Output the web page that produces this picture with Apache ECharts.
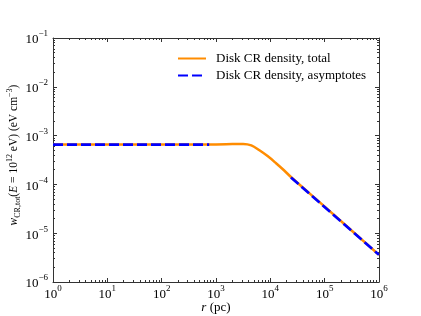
<!DOCTYPE html>
<html><head><meta charset="utf-8">
<script src="https://cdn.jsdelivr.net/npm/echarts@6/dist/echarts.min.js"></script>
<style>html,body{margin:0;padding:0;background:#fff}#c{width:421px;height:316px}</style>
</head><body><div id="c"></div>
<script>
// ---- data ----
const totalR = [1, 10, 100, 1000, 2000, 3160, 4470, 6300, 8900, 12600, 17800, 25100, 100000, 1000000];
const totalW = [6.55e-4, 6.55e-4, 6.55e-4, 6.6e-4, 6.7e-4, 6.75e-4, 6.3e-4, 5.0e-4, 3.8e-4, 2.75e-4, 1.95e-4, 1.35e-4, 3.5e-5, 3.6e-6];
const innerAsymR = [1, 750];
const innerAsymW = [6.55e-4, 6.55e-4];
const outerAsymR = [24000, 1000000];
const outerAsymW = [1.39e-4, 3.6e-6];
const xTickExps = [0, 1, 2, 3, 4, 5, 6];
const yTickExps = [-6, -5, -4, -3, -2, -1];
const seriesNames = ['Disk CR density, total', 'Disk CR density, asymptotes'];

const FONT = '"Liberation Serif", "Times New Roman", serif';
const AXC = '#333';
function pairs(a, b) { return a.map((v, i) => [v, b[i]]); }
function minorVals(e0, e1) {
  const out = [];
  for (let e = e0; e < e1; e++) for (let k = 2; k <= 9; k++) out.push(Number((k * Math.pow(10, e)).toPrecision(3)));
  return out;
}
const xMinor = minorVals(xTickExps[0], xTickExps[xTickExps.length - 1]);
const yMinor = minorVals(yTickExps[0], yTickExps[yTickExps.length - 1]);
const xMajor = xTickExps.map(e => Math.pow(10, e));
const yMajor = yTickExps.map(e => Number(Math.pow(10, e).toPrecision(3)));

const richTick = {
  b: { fontFamily: FONT, fontSize: 13, color: '#000', lineHeight: 17, verticalAlign: 'bottom' },
  s: { fontFamily: FONT, fontSize: 9, color: '#000', lineHeight: 17, verticalAlign: 'top' }
};
function fmtPow(v) {
  const e = Math.round(Math.log10(v));
  return '{b|10}{s|' + (e < 0 ? '\u2212' + (-e) : e) + '}';
}
const gridPos = { left: 53, right: 42, top: 38, bottom: 34, containLabel: false, outerBoundsMode: 'none' };

function majorAxis(kind, pos, gi, labels, extra) {
  return Object.assign({
    type: 'log', logBase: 10, gridIndex: gi, position: pos,
    min: kind === 'x' ? xMajor[0] : yMajor[0],
    max: kind === 'x' ? xMajor[xMajor.length - 1] : yMajor[yMajor.length - 1],
    axisLine: { show: true, lineStyle: { color: AXC, width: 1 } },
    axisTick: { show: true, inside: true, length: 4, lineStyle: { color: AXC, width: 1 } },
    axisLabel: labels ? { show: true, formatter: fmtPow, rich: richTick, margin: kind === 'x' ? 2 : 5 } : { show: false },
    splitLine: { show: false }, minorTick: { show: false }
  }, extra || {});
}
function minorAxis(kind, pos) {
  return {
    type: 'log', logBase: 10, gridIndex: 1, position: pos,
    min: kind === 'x' ? xMajor[0] : yMajor[0],
    max: kind === 'x' ? xMajor[xMajor.length - 1] : yMajor[yMajor.length - 1],
    axisLine: { show: false },
    axisTick: { show: true, inside: true, length: 2, customValues: kind === 'x' ? xMinor : yMinor, lineStyle: { color: AXC, width: 1 } },
    axisLabel: { show: false }, splitLine: { show: false }
  };
}

const chart = echarts.init(document.getElementById('c'), null, { renderer: 'canvas' });
chart.setOption({
  animation: false,
  backgroundColor: '#fff',
  grid: [Object.assign({}, gridPos), Object.assign({}, gridPos)],
  xAxis: [
    majorAxis('x', 'bottom', 0, true, {
      name: '{i|r} {n|(pc)}', nameLocation: 'middle', nameGap: 19, nameMoveOverlap: false,
      nameTextStyle: { rich: { i: { fontFamily: FONT, fontSize: 13, fontStyle: 'italic', color: '#000' }, n: { fontFamily: FONT, fontSize: 13, color: '#000' } } }
    }),
    majorAxis('x', 'top', 0, false),
    minorAxis('x', 'bottom'), minorAxis('x', 'top')
  ],
  yAxis: [
    majorAxis('y', 'left', 0, true, {
      name: '{i|w}{sub|CR,tot}{n|(}{i|E}{n| = 10}{sup|12}{n| eV) (eV cm}{sup|\u22123}{n|)}',
      nameLocation: 'middle', nameRotate: 90, nameGap: 31, nameMoveOverlap: false,
      nameTextStyle: { padding: [0, 0, 0, 10], rich: {
        i: { fontFamily: FONT, fontSize: 11.5, fontStyle: 'italic', color: '#000', lineHeight: 16, verticalAlign: 'middle' },
        n: { fontFamily: FONT, fontSize: 11.5, color: '#000', lineHeight: 16, verticalAlign: 'middle' },
        sub: { fontFamily: FONT, fontSize: 8, color: '#000', lineHeight: 16, verticalAlign: 'bottom' },
        sup: { fontFamily: FONT, fontSize: 8, color: '#000', lineHeight: 16, verticalAlign: 'top' }
      } }
    }),
    majorAxis('y', 'right', 0, false),
    minorAxis('y', 'left'), minorAxis('y', 'right')
  ],
  legend: {
    orient: 'vertical', left: 172, top: 47, itemWidth: 28, itemHeight: 14, itemGap: 4,
    data: seriesNames,
    itemStyle: { opacity: 0 },
    textStyle: { fontFamily: FONT, fontSize: 13, color: '#000', padding: [0, 0, 0, 5] }
  },
  series: [
    { name: seriesNames[0], type: 'line', xAxisIndex: 0, yAxisIndex: 0, symbol: 'none', smooth: 0.35,
      data: pairs(totalR, totalW), lineStyle: { color: '#ff8c00', width: 2.5 }, itemStyle: { color: '#ff8c00' }, z: 2 },
    { name: seriesNames[1], type: 'line', xAxisIndex: 0, yAxisIndex: 0, symbol: 'none',
      data: pairs(innerAsymR, innerAsymW), lineStyle: { color: '#0000ff', width: 2.7, type: [10, 4] }, itemStyle: { color: '#0000ff' }, z: 3 },
    { name: seriesNames[1], type: 'line', xAxisIndex: 0, yAxisIndex: 0, symbol: 'none',
      data: pairs(outerAsymR, outerAsymW), lineStyle: { color: '#0000ff', width: 2.7, type: [10, 4] }, itemStyle: { color: '#0000ff' }, z: 3 }
  ]
});
</script></body></html>
